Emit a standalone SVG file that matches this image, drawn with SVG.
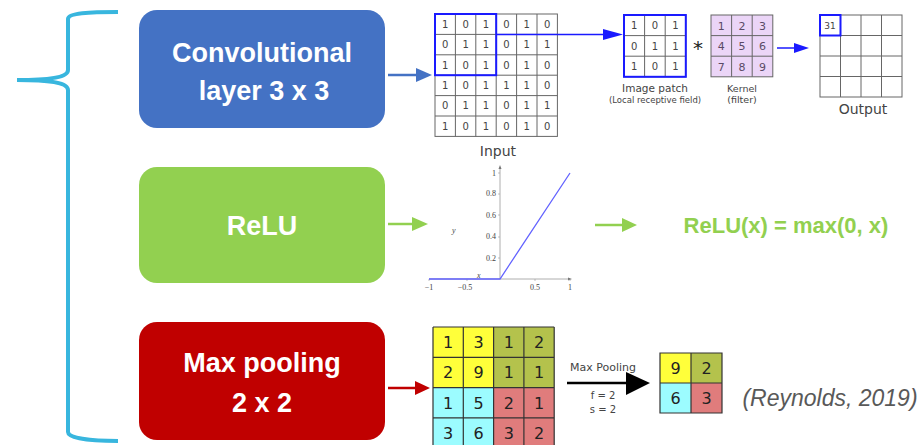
<svg xmlns="http://www.w3.org/2000/svg" width="923" height="445" viewBox="0 0 923 445">
<style>
.box{stroke:none}
.bt{font-family:"Liberation Sans",Arial,sans-serif;font-weight:bold;font-size:27px;fill:#fff;text-anchor:middle}
.g{fill:#fff;stroke:#666;stroke-width:1}
.gl{stroke:#666;stroke-width:1;fill:none}
.d{font-family:"DejaVu Sans",sans-serif;font-size:10px;fill:#444;text-anchor:middle}
.cap{font-family:"DejaVu Sans",sans-serif;fill:#444;text-anchor:middle}
.mp{font-family:"DejaVu Sans",sans-serif;font-size:16px;fill:#222;text-anchor:middle}
.pl{font-family:"Liberation Serif",serif;font-size:8px;fill:#444}
</style>

<!-- brace -->
<path d="M118,12 C90,12 68,13 68,19 L68,70 C68,77 52,80 17,80 C52,80 68,83 68,90 L68,432 C68,438 90,441 118,441" fill="none" stroke="#38B6DE" stroke-width="4"/>

<g id="conv">
<rect class="box" x="139" y="10" width="246" height="118" rx="18" fill="#4472C4"/>
<text class="bt" x="262" y="62">Convolutional</text>
<text class="bt" x="264" y="100">layer 3 x 3</text>
</g>

<g id="relu">
<rect class="box" x="139" y="167" width="246" height="116" rx="18" fill="#92D050"/>
<text class="bt" x="262" y="235">ReLU</text>
</g>

<g id="maxpool">
<rect class="box" x="139" y="322" width="246" height="118" rx="18" fill="#C00000"/>
<text class="bt" x="262" y="372">Max pooling</text>
<text class="bt" x="262" y="412">2 x 2</text>
</g>

<g id="input">
<rect class="g" x="435" y="14" width="122.4" height="122.4"/>
<path class="gl" d="M455.4,14V136.4M475.8,14V136.4M496.2,14V136.4M516.6,14V136.4M537,14V136.4M435,34.4H557.4M435,54.8H557.4M435,75.2H557.4M435,95.6H557.4M435,116H557.4"/>
<rect x="435" y="14" width="61.2" height="61.2" fill="none" stroke="#1a1aff" stroke-width="2"/>
<g class="d">
<text x="445.2" y="27.7">1</text><text x="465.6" y="27.7">0</text><text x="486" y="27.7">1</text><text x="506.4" y="27.7">0</text><text x="526.8" y="27.7">1</text><text x="547.2" y="27.7">0</text>
<text x="445.2" y="48.1">0</text><text x="465.6" y="48.1">1</text><text x="486" y="48.1">1</text><text x="506.4" y="48.1">0</text><text x="526.8" y="48.1">1</text><text x="547.2" y="48.1">1</text>
<text x="445.2" y="68.5">1</text><text x="465.6" y="68.5">0</text><text x="486" y="68.5">1</text><text x="506.4" y="68.5">0</text><text x="526.8" y="68.5">1</text><text x="547.2" y="68.5">0</text>
<text x="445.2" y="88.9">1</text><text x="465.6" y="88.9">0</text><text x="486" y="88.9">1</text><text x="506.4" y="88.9">1</text><text x="526.8" y="88.9">1</text><text x="547.2" y="88.9">0</text>
<text x="445.2" y="109.3">0</text><text x="465.6" y="109.3">1</text><text x="486" y="109.3">1</text><text x="506.4" y="109.3">0</text><text x="526.8" y="109.3">1</text><text x="547.2" y="109.3">1</text>
<text x="445.2" y="129.7">1</text><text x="465.6" y="129.7">0</text><text x="486" y="129.7">1</text><text x="506.4" y="129.7">0</text><text x="526.8" y="129.7">1</text><text x="547.2" y="129.7">0</text>
</g>
<text class="cap" x="498" y="156" font-size="14">Input</text>
</g>

<g id="patch">
<rect class="g" x="624" y="15" width="61.8" height="61.8"/>
<path class="gl" d="M644.6,15V76.8M665.2,15V76.8M624,35.6H685.8M624,56.2H685.8"/>
<rect x="624" y="15" width="61.8" height="61.8" fill="none" stroke="#1a1aff" stroke-width="2"/>
<g class="d">
<text x="634.3" y="29">1</text><text x="654.9" y="29">0</text><text x="675.5" y="29">1</text>
<text x="634.3" y="49.6">0</text><text x="654.9" y="49.6">1</text><text x="675.5" y="49.6">1</text>
<text x="634.3" y="70.2">1</text><text x="654.9" y="70.2">0</text><text x="675.5" y="70.2">1</text>
</g>
<text class="cap" x="655" y="92" font-size="10.5">Image patch</text>
<text class="cap" x="655" y="103" font-size="8.5">(Local receptive field)</text>
</g>

<text x="698" y="55" font-family="DejaVu Sans,sans-serif" font-size="20" fill="#222" text-anchor="middle">*</text>

<g id="kernel">
<rect x="711" y="15" width="61.8" height="61.8" fill="#EBD5F7" stroke="#666" stroke-width="1"/>
<path class="gl" d="M731.6,15V76.8M752.2,15V76.8M711,35.6H772.8M711,56.2H772.8"/>
<g class="d" style="font-size:11px;fill:#5a4a66">
<text x="721.3" y="29.5">1</text><text x="741.9" y="29.5">2</text><text x="762.5" y="29.5">3</text>
<text x="721.3" y="50">4</text><text x="741.9" y="50">5</text><text x="762.5" y="50">6</text>
<text x="721.3" y="70.6">7</text><text x="741.9" y="70.6">8</text><text x="762.5" y="70.6">9</text>
</g>
<text class="cap" x="742" y="92" font-size="9.5">Kernel</text>
<text class="cap" x="742" y="103" font-size="9.5">(filter)</text>
</g>

<g id="output">
<rect class="g" x="820" y="15" width="82" height="82"/>
<path class="gl" d="M840.5,15V97M861,15V97M881.5,15V97M820,35.5H902M820,56H902M820,76.5H902"/>
<rect x="820" y="15" width="20.5" height="20.5" fill="none" stroke="#1a1aff" stroke-width="2"/>
<text class="d" x="830" y="28.5" style="font-size:9px">31</text>
<text class="cap" x="863" y="114" font-size="14">Output</text>
</g>

<g id="relu-plot">
<path d="M429,279H570M500,279V167" stroke="#999" stroke-width="0.8" fill="none"/>
<path d="M498.5,169L500,165L501.5,169ZM568,277.5L572,279L568,280.5Z" fill="#777"/>
<path d="M429,279V281M467,279V281M535,279V281M570,279V281M498,173H500M498,194H500M498,215H500M498,237H500M498,258H500" stroke="#999" stroke-width="0.6"/>
<g class="pl" text-anchor="end">
<text x="496" y="176">1</text><text x="496" y="196">0.8</text><text x="496" y="218">0.6</text><text x="496" y="239">0.4</text><text x="496" y="261">0.2</text>
</g>
<g class="pl" text-anchor="middle">
<text x="429" y="290">−1</text><text x="465" y="290">−0.5</text><text x="535" y="290">0.5</text><text x="570" y="290">1</text>
</g>
<text class="pl" x="452" y="233" font-style="italic">y</text>
<text class="pl" x="477" y="278" font-style="italic">x</text>
<path d="M429,279H500L570,173" stroke="#6262ff" stroke-width="1.3" fill="none"/>
</g>

<g id="relu-formula">
<text x="786" y="233" font-family="Liberation Sans,Arial,sans-serif" font-weight="bold" font-size="22" fill="#92D050" text-anchor="middle">ReLU(x) = max(0, x)</text>
</g>

<g id="pool-input">
<rect x="433" y="327" width="60.6" height="60.6" fill="#FFFF3A"/>
<rect x="493.6" y="327" width="60.6" height="60.6" fill="#B4C24C"/>
<rect x="433" y="387.6" width="60.6" height="60.6" fill="#9CFCFF"/>
<rect x="493.6" y="387.6" width="60.6" height="60.6" fill="#E07C7C"/>
<path d="M433,327V448M463.3,327V448M493.6,327V448M523.9,327V448M554.2,327V448M433,327H554.2M433,357.3H554.2M433,387.6H554.2M433,417.9H554.2" stroke="#333" stroke-width="1.2" fill="none"/>
<g class="mp">
<text x="448.2" y="348">1</text><text x="478.5" y="348">3</text><text x="508.8" y="348">1</text><text x="539" y="348">2</text>
<text x="448.2" y="378.3">2</text><text x="478.5" y="378.3">9</text><text x="508.8" y="378.3">1</text><text x="539" y="378.3">1</text>
<text x="448.2" y="408.6">1</text><text x="478.5" y="408.6">5</text><text x="508.8" y="408.6">2</text><text x="539" y="408.6">1</text>
<text x="448.2" y="438.9">3</text><text x="478.5" y="438.9">6</text><text x="508.8" y="438.9">3</text><text x="539" y="438.9">2</text>
</g>
</g>

<g id="pool-label">
<text class="cap" x="603" y="371" font-size="11" fill="#222">Max Pooling</text>
<text class="cap" x="603" y="399" font-size="10" fill="#222">f = 2</text>
<text class="cap" x="603" y="413" font-size="10" fill="#222">s = 2</text>
</g>

<g id="pool-output">
<rect x="660" y="353" width="31" height="30" fill="#FFFF3A"/>
<rect x="691" y="353" width="31" height="30" fill="#B4C24C"/>
<rect x="660" y="383" width="31" height="30" fill="#9CFCFF"/>
<rect x="691" y="383" width="31" height="30" fill="#E07C7C"/>
<path d="M660,353H722V413H660ZM691,353V413M660,383H722" stroke="#333" stroke-width="1.2" fill="none"/>
<g class="mp">
<text x="675.5" y="374">9</text><text x="706.5" y="374">2</text>
<text x="675.5" y="404">6</text><text x="706.5" y="404">3</text>
</g>
</g>

<text x="830" y="406" font-family="Liberation Sans,Arial,sans-serif" font-style="italic" font-size="23" fill="#595959" text-anchor="middle">(Reynolds, 2019)</text>

<g id="connectors">
<line x1="388" y1="75" x2="420" y2="75" stroke="#4472C4" stroke-width="2.5"/>
<polygon points="416,68 432,75 416,82" fill="#4472C4"/>
<line x1="496.2" y1="34.5" x2="606" y2="34.5" stroke="#1a1aff" stroke-width="1.5"/>
<polygon points="603,29 623,34.5 603,40" fill="#1a1aff"/>
<line x1="777" y1="48" x2="796" y2="48" stroke="#1a1aff" stroke-width="1.5"/>
<polygon points="794,43 809,48 794,53" fill="#1a1aff"/>
<line x1="388" y1="224" x2="415" y2="224" stroke="#92D050" stroke-width="2.5"/>
<polygon points="412,217 428,224 412,231" fill="#92D050"/>
<line x1="595" y1="225" x2="625" y2="225" stroke="#92D050" stroke-width="2.5"/>
<polygon points="622,218 637,225 622,232" fill="#92D050"/>
<line x1="388" y1="388" x2="418" y2="388" stroke="#C00000" stroke-width="2.5"/>
<polygon points="415,381 430,388 415,395" fill="#C00000"/>
<line x1="567" y1="383" x2="630" y2="383" stroke="#000" stroke-width="2.5"/>
<polygon points="626,372 650,383 626,395" fill="#000"/>
</g>
</svg>
